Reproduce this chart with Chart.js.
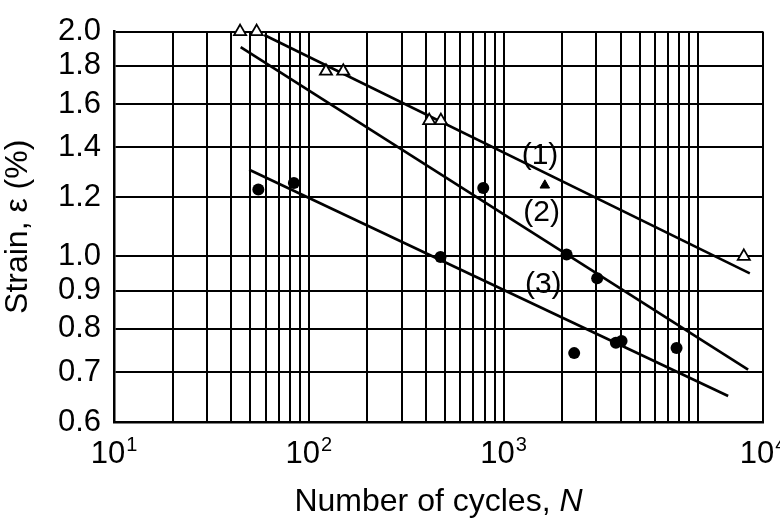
<!DOCTYPE html>
<html>
<head>
<meta charset="utf-8">
<script src="https://cdn.jsdelivr.net/npm/chart.js@4.4.1/dist/chart.umd.min.js"></script>
<style>
  html, body { margin:0; padding:0; background:#fff; }
</style>
</head>
<body>
<canvas id="c" width="780" height="522"></canvas>
<script>
// data (N = cycles, E = strain %)
const openTriN = [44.4, 54.0, 122.6, 150.4, 415.6, 477, 17140];
const openTriE = [2.0, 2.0, 1.77, 1.77, 1.52, 1.52, 1.0];

const filledTriN = [1630];
const filledTriE = [1.245];

const circleN = [55.1, 83.9, 787, 475, 2108, 3027, 2306, 3776, 4038, 7736];
const circleE = [1.229, 1.254, 1.235, 0.998, 1.006, 0.935, 0.742, 0.766, 0.770, 0.754];

// fitted lines (1), (2), (3): end points
const line1N = [59.1, 18400];
const line1E = [1.979, 0.949];
const line2N = [44.7, 18030];
const line2E = [1.907, 0.705];
const line3N = [49.5, 14240];
const line3E = [1.306, 0.650];

// curve labels
const labelText = ['(1)', '(2)', '(3)'];
const labelN = [1540, 1570, 1600];
const labelE = [1.364, 1.145, 0.916];

// axes
const X_MIN = 10;
const X_MAX = 21500;
const xLabelValues = [10, 100, 1000, X_MAX];
const xLabelExps = ['1', '2', '3', '4'];
const yTicks = [0.6, 0.7, 0.8, 0.9, 1.0, 1.2, 1.4, 1.6, 1.8, 2.0];

const FONT = '"Liberation Sans", Arial, Helvetica, sans-serif';

function pts(xs, ys){
  return xs.map((x, i) => ({ x: x, y: ys[i] }));
}

const xGrid = [];
for (let d = 10; d <= 1000; d *= 10){
  for (let m = 1; m <= 9; m++) xGrid.push(m * d);
}
xGrid.push(10000, X_MAX);

const textPlugin = {
  id: 'texts',
  afterDraw(chart){
    const ctx = chart.ctx;
    const xs = chart.scales.x, ys = chart.scales.y;
    const area = chart.chartArea;
    ctx.save();
    ctx.fillStyle = '#000';
    ctx.textBaseline = 'alphabetic';
    ctx.textAlign = 'left';

    // x tick labels with superscripts
    xLabelValues.forEach((v, i) => {
      const px = xs.getPixelForValue(v);
      ctx.font = '31px ' + FONT;
      const wBase = ctx.measureText('10').width;
      ctx.font = '20px ' + FONT;
      const wExp = ctx.measureText(xLabelExps[i]).width;
      const left = px - (wBase + wExp + 1) / 2;
      ctx.font = '31px ' + FONT;
      ctx.fillText('10', left, area.bottom + 41);
      ctx.font = '20px ' + FONT;
      ctx.fillText(xLabelExps[i], left + wBase + 1, area.bottom + 29);
    });

    // curve labels
    ctx.font = '30px ' + FONT;
    ctx.textAlign = 'center';
    ctx.textBaseline = 'middle';
    labelText.forEach((t, i) => {
      ctx.fillText(t, xs.getPixelForValue(labelN[i]), ys.getPixelForValue(labelE[i]));
    });

    // x title
    ctx.textBaseline = 'alphabetic';
    ctx.textAlign = 'left';
    ctx.font = '32px ' + FONT;
    const t1 = 'Number of cycles, ';
    const w1 = ctx.measureText(t1).width;
    ctx.font = 'italic 32px ' + FONT;
    const w2 = ctx.measureText('N').width;
    const cx = (area.left + area.right) / 2;
    const x0 = cx - (w1 + w2) / 2;
    ctx.font = '32px ' + FONT;
    ctx.fillText(t1, x0, 511);
    ctx.font = 'italic 32px ' + FONT;
    ctx.fillText('N', x0 + w1, 511);

    // y title
    ctx.translate(27, (area.top + area.bottom) / 2);
    ctx.rotate(-Math.PI / 2);
    ctx.textAlign = 'center';
    ctx.font = '32px ' + FONT;
    ctx.fillText('Strain, \u03b5 (%)', 0, 0);
    ctx.restore();
  }
};

const lineStyle = { showLine: true, pointRadius: 0, borderColor: '#000', borderWidth: 2.6, fill: false };

new Chart(document.getElementById('c').getContext('2d'), {
  type: 'scatter',
  data: {
    datasets: [
      { data: pts(openTriN, openTriE), pointStyle: 'triangle', pointRadius: 7,
        backgroundColor: '#fff', borderColor: '#000', borderWidth: 1.8, clip: false },
      { data: pts(filledTriN, filledTriE), pointStyle: 'triangle', pointRadius: 5.5,
        backgroundColor: '#000', borderColor: '#000', borderWidth: 1, clip: false },
      { data: pts(circleN, circleE), pointStyle: 'circle', pointRadius: 6,
        backgroundColor: '#000', borderColor: '#000', borderWidth: 0, clip: false },
      Object.assign({ data: pts(line1N, line1E) }, lineStyle),
      Object.assign({ data: pts(line2N, line2E) }, lineStyle),
      Object.assign({ data: pts(line3N, line3E) }, lineStyle)
    ]
  },
  options: {
    responsive: false,
    animation: false,
    layout: { padding: { left: 0, right: 17, top: 23, bottom: 0 } },
    plugins: { legend: { display: false }, tooltip: { enabled: false } },
    scales: {
      x: {
        type: 'logarithmic',
        min: X_MIN, max: X_MAX,
        afterBuildTicks: (axis) => { axis.ticks = xGrid.map(v => ({ value: v })); },
        afterFit: (axis) => { axis.height = 100; },
        ticks: { display: false },
        grid: { color: '#000', lineWidth: 2, drawTicks: false },
        border: { color: '#000', width: 2.5 }
      },
      y: {
        type: 'logarithmic',
        min: 0.6, max: 2.0,
        afterBuildTicks: (axis) => { axis.ticks = yTicks.map(v => ({ value: v })); },
        afterFit: (axis) => { axis.width = 114; },
        ticks: {
          autoSkip: false, padding: 13, color: '#000',
          font: { family: FONT, size: 31 },
          callback: (v) => Number(v).toFixed(1)
        },
        grid: { color: '#000', lineWidth: 2, drawTicks: false },
        border: { color: '#000', width: 2.5 }
      }
    }
  },
  plugins: [textPlugin]
});
</script>
</body>
</html>
